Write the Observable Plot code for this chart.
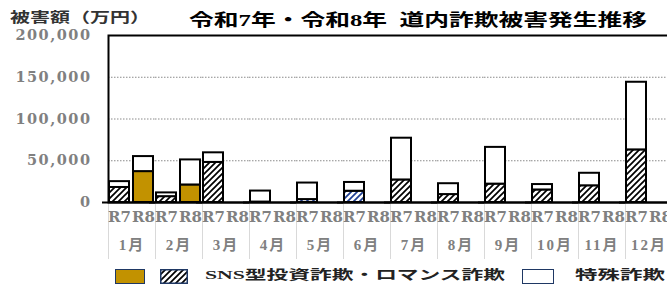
<!DOCTYPE html>
<html><head><meta charset="utf-8">
<script src="https://cdn.jsdelivr.net/npm/d3@7"></script>
<script src="https://cdn.jsdelivr.net/npm/@observablehq/plot@0.6"></script>
<style>
html,body{margin:0;padding:0;overflow:hidden;background:#fff;}
#wrap{position:relative;width:667px;height:285px;overflow:hidden;background:#fff;}
#chart{position:absolute;left:0;top:0;}
svg{max-width:none !important;}
.t{position:absolute;white-space:pre;transform-origin:0 50%;font-family:"Liberation Serif","Noto Sans CJK JP",serif;font-weight:700;display:inline-block;}
.sw{position:absolute;box-sizing:border-box;border:1.5px solid #1f3864;}
g[aria-label="y-axis tick label"] text{letter-spacing:1.5px;}
g[aria-label="fx-axis tick label"] text{letter-spacing:2px;}
</style>
</head><body>
<svg width="0" height="0" style="position:absolute">
  <defs>
    <pattern id="hatch" patternUnits="userSpaceOnUse" width="6" height="6">
      <rect width="6" height="6" fill="#fff"/>
      <path d="M-1.5,1.5 L1.5,-1.5 M0,6 L6,0 M4.5,7.5 L7.5,4.5" stroke="#000" stroke-width="1.7"/>
    </pattern>
    <pattern id="hatchBlue" patternUnits="userSpaceOnUse" width="6" height="6">
      <rect width="6" height="6" fill="#fff"/>
      <path d="M-1.5,1.5 L1.5,-1.5 M0,6 L6,0 M4.5,7.5 L7.5,4.5" stroke="#1f3f94" stroke-width="1.7"/>
    </pattern>
  </defs>
</svg>
<div id="wrap">
  <div id="chart"></div>
  <span class="t" id="ylab" style="left:10px;top:10px;font-size:14px;line-height:16px;color:#333;">被害額（万円）</span>
  <span class="t" id="title" style="left:189px;top:11px;font-size:17px;line-height:19px;color:#000;">令和7年・令和8年  道内詐欺被害発生推移</span>
  <div class="sw" style="left:115px;top:269px;width:30px;height:15px;background:#c29200;"></div>
  <svg style="position:absolute;left:160px;top:269px;" width="28" height="15"><rect x="0.75" y="0.75" width="26.5" height="13.5" fill="url(#hatch)" stroke="#1f3864" stroke-width="1.5"/></svg>
  <span class="t" id="leg1" style="left:205px;top:267px;font-size:13px;line-height:16px;color:#222;">SNS型投資詐欺・ロマンス詐欺</span>
  <div class="sw" style="left:522px;top:269px;width:32px;height:15px;background:#fff;"></div>
  <span class="t" id="leg2" style="left:575px;top:267px;font-size:13px;line-height:16px;color:#222;">特殊詐欺</span>
</div>
<script>
const months = ["1月","2月","3月","4月","5月","6月","7月","8月","9月","10月","11月","12月"];
const years = ["R7","R8"];
const r7Sns     = [18000, 7000, 48000,   500,  3500, 13500, 27000,  9500, 22000, 15000, 20000, 63000];
const r7Special = [ 7000, 4500, 11500, 13200, 19800, 10500, 50000, 13000, 44000,  6500, 15000, 81000];
const r8Sns     = [37000, 21000];
const r8Special = [18000, 30000];
const blueHatchMonths = ["5月","6月"];
const yTicks = [0, 50000, 100000, 150000, 200000];
const gridValues = [50000, 100000, 150000];

const gold = "#c29200";
const rows = [];
months.forEach((m, i) => {
  rows.push({month: m, year: "R7", type: "SNS", value: r7Sns[i]});
  rows.push({month: m, year: "R7", type: "特殊", value: r7Special[i]});
});
r8Sns.forEach((v, i) => {
  rows.push({month: months[i], year: "R8", type: "SNS", value: v});
  rows.push({month: months[i], year: "R8", type: "特殊", value: r8Special[i]});
});
const fillOf = d => d.type === "特殊" ? "#ffffff"
  : d.year === "R8" ? gold
  : blueHatchMonths.includes(d.month) ? "url(#hatchBlue)" : "url(#hatch)";

const tickFont = {fontFamily: "DejaVu Serif", fontWeight: "bold", color: "#808080"};
const common = {
  width: 680, height: 285, marginLeft: 106, marginRight: 6, marginTop: 35, marginBottom: 83,
  fx: {domain: months, padding: 0, label: null},
  x: {domain: years, paddingInner: 0.16, paddingOuter: 0.05, label: null},
  y: {domain: [0, 200000], label: null},
  color: {type: "identity"}
};
function marks(superOK) {
  return [
    Plot.ruleY(gridValues, {stroke: "#8a8a8a", strokeDasharray: "1.5 1.5", strokeWidth: 1}),
    Plot.frame({anchor: "left", stroke: "#d9d9d9", strokeWidth: 1, insetTop: 167, insetBottom: -56}),
    Plot.barY(rows, {fx: "month", x: "year", y: "value", fill: fillOf, stroke: "#000", strokeWidth: 2}),
    superOK ? Plot.frame({stroke: "#000", strokeWidth: 2, facet: "super"}) : Plot.ruleY([200000], {stroke: "#000", strokeWidth: 2}),
    Plot.ruleY([0], {stroke: "#000", strokeWidth: 2, insetLeft: -6}),
    Plot.axisY({ticks: yTicks, tickSize: 0, tickPadding: 17, tickFormat: d3.format(","), fontSize: 14.5, label: null, ...tickFont}),
    Plot.axisX({anchor: "bottom", tickSize: 0, tickPadding: 9, fontSize: 15, label: null, ...tickFont}),
    Plot.axisFx({anchor: "bottom", tickSize: 0, tickPadding: 37, fontSize: 15, label: null,
      fontFamily: "Liberation Serif, Noto Sans CJK JP", fontWeight: "bold", color: "#808080"})
  ];
}
let chart;
try { chart = Plot.plot({...common, marks: marks(true)}); }
catch (e) { chart = Plot.plot({...common, marks: marks(false)}); }
document.getElementById("chart").appendChild(chart);

function fit(id, w) {
  const el = document.getElementById(id);
  const r = el.getBoundingClientRect().width;
  el.style.transform = `scaleX(${w / r})`;
}
fit("ylab", 140);
fit("title", 458);
fit("leg1", 300);
fit("leg2", 90);
</script>
</body></html>
